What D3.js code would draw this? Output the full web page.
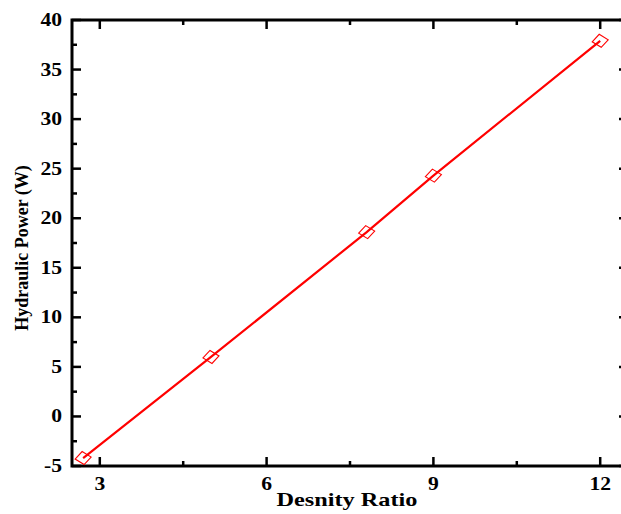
<!DOCTYPE html>
<html>
<head>
<meta charset="utf-8">
<script src="https://cdn.jsdelivr.net/npm/d3@7"></script>
<style>
  body { margin: 0; background: #fff; overflow: hidden; }
  svg { display: block; }
</style>
</head>
<body>
<div id="chart"></div>
<script>
// data
const densityRatio = [2.7, 5.0, 7.8, 9.0, 12.0];
const hydraulicPower = [-4.2, 6.0, 18.6, 24.3, 37.9];
const xTicks = [3, 6, 9, 12];
const xMinorTicks = [4.5, 7.5, 10.5];
const yTicks = [-5, 0, 5, 10, 15, 20, 25, 30, 35, 40];
const yMinorTicks = [-2.5, 2.5, 7.5, 12.5, 17.5, 22.5, 27.5, 32.5, 37.5];

const data = densityRatio.map((d, i) => ({x: d, y: hydraulicPower[i]}));

const margin = {top: 20, right: 0, bottom: 48, left: 72};
const visWidth = 556;
const visHeight = 446;

const svg = d3.select("#chart").append("svg")
    .attr("width", 621)
    .attr("height", 514);

const g = svg.append("g")
  .attr("transform", `translate(${margin.left}, ${margin.top})`);

const x = d3.scaleLinear().domain([2.5, 12.5]).range([0, visWidth]);
const y = d3.scaleLinear().domain([-5, 40]).range([visHeight, 0]);

const font = "'Liberation Serif', 'Times New Roman', serif";

// inward ticks on all four sides
function ticks(vals, len, sw) {
  vals.forEach(v => {
    g.append("line").attr("x1", x(v)).attr("x2", x(v))
      .attr("y1", visHeight).attr("y2", visHeight - len)
      .attr("stroke", "#000").attr("stroke-width", sw);
    g.append("line").attr("x1", x(v)).attr("x2", x(v))
      .attr("y1", 0).attr("y2", len)
      .attr("stroke", "#000").attr("stroke-width", sw);
  });
}
function yticks(vals, len, sw) {
  vals.forEach(v => {
    g.append("line").attr("y1", y(v)).attr("y2", y(v))
      .attr("x1", 0).attr("x2", len)
      .attr("stroke", "#000").attr("stroke-width", sw);
    g.append("line").attr("y1", y(v)).attr("y2", y(v))
      .attr("x1", visWidth).attr("x2", visWidth - len)
      .attr("stroke", "#000").attr("stroke-width", sw);
  });
}
ticks(xTicks, 9, 2.5);
ticks(xMinorTicks, 5, 2.5);
yticks(yTicks, 9, 2.5);
yticks(yMinorTicks, 5, 2.5);

// frame
g.append("rect")
  .attr("x", 0).attr("y", 0)
  .attr("width", visWidth).attr("height", visHeight)
  .attr("fill", "none")
  .attr("stroke", "#000")
  .attr("stroke-width", 3);

// tick labels (the original glyphs are a bit wide)
g.selectAll(".xl")
  .data(xTicks)
  .join("text")
    .attr("transform", d => `translate(${x(d)}, ${visHeight + 24}) scale(1.2, 1)`)
    .attr("text-anchor", "middle")
    .attr("font-family", font)
    .attr("font-weight", "bold")
    .attr("font-size", "18px")
    .text(d => d);

g.selectAll(".yl")
  .data(yTicks)
  .join("text")
    .attr("transform", d => `translate(-10, ${y(d) + 6}) scale(1.2, 1)`)
    .attr("text-anchor", "end")
    .attr("font-family", font)
    .attr("font-weight", "bold")
    .attr("font-size", "18px")
    .text(d => d);

// axis titles
g.append("text")
  .attr("transform", `translate(${visWidth / 2 - 3}, ${visHeight + 40}) scale(1.35, 1)`)
  .attr("text-anchor", "middle")
  .attr("font-family", font)
  .attr("font-weight", "bold")
  .attr("font-size", "18px")
  .text("Desnity Ratio");

g.append("text")
  .attr("transform", `translate(${-44}, ${visHeight / 2 + 5}) rotate(-90)`)
  .attr("text-anchor", "middle")
  .attr("font-family", font)
  .attr("font-weight", "bold")
  .attr("font-size", "18px")
  .text("Hydraulic Power (W)");

// line
const line = d3.line().x(d => x(d.x)).y(d => y(d.y));
g.append("path")
  .datum(data)
  .attr("fill", "none")
  .attr("stroke", "#ff0000")
  .attr("stroke-width", 2.2)
  .attr("d", line);

// hollow diamond markers (skewed like the original)
const marker = "M-8,1 L-1,-6.5 L8,-1 L1,6.5 Z";
g.selectAll(".pt")
  .data(data)
  .join("path")
    .attr("transform", d => `translate(${x(d.x)}, ${y(d.y)})`)
    .attr("d", marker)
    .attr("fill", "none")
    .attr("stroke", "#ff0000")
    .attr("stroke-width", 1.1);
</script>
</body>
</html>
